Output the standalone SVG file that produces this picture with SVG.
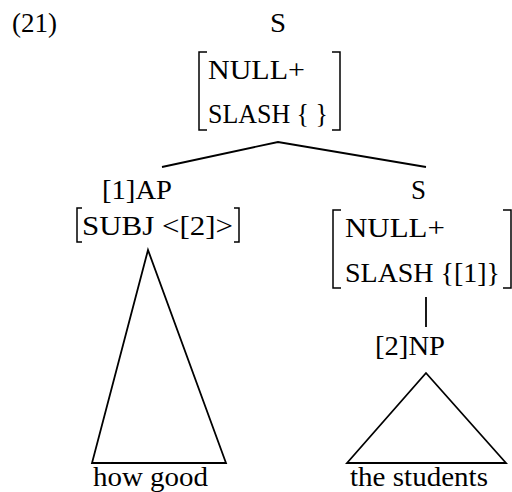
<svg xmlns="http://www.w3.org/2000/svg" width="512" height="492" viewBox="0 0 512 492">
<style>
text{font-family:"Liberation Serif","Times New Roman",serif;font-size:28px;fill:#000}
.ln{fill:none;stroke:#000;stroke-width:1.8}
.br{fill:none;stroke:#000;stroke-width:1.5}
</style>
<rect width="512" height="492" fill="#fff"/>
<text x="12" y="32" textLength="45" lengthAdjust="spacingAndGlyphs">(21)</text>
<g id="s-top">
<text x="270" y="32" textLength="16" lengthAdjust="spacingAndGlyphs">S</text>
<path class="br" d="M207,52 H199 V130 H207 M332,52 H340 V130 H332"/>
<text x="208" y="79" textLength="97" lengthAdjust="spacingAndGlyphs">NULL+</text>
<text x="208" y="123" textLength="120" lengthAdjust="spacingAndGlyphs">SLASH { }</text>
</g>
<g id="ap">
<text x="102" y="199" textLength="70" lengthAdjust="spacingAndGlyphs">[1]AP</text>
<path class="br" d="M82,208 H77 V242 H82 M234,208 H239 V242 H234"/>
<text x="82" y="235" textLength="151" lengthAdjust="spacingAndGlyphs">SUBJ &lt;[2]&gt;</text>
</g>
<g id="s-right">
<text x="411" y="199" textLength="15" lengthAdjust="spacingAndGlyphs">S</text>
<path class="br" d="M341,210 H333 V288 H341 M503,210 H511 V288 H503"/>
<text x="345" y="237" textLength="100" lengthAdjust="spacingAndGlyphs">NULL+</text>
<text x="345" y="282" textLength="155" lengthAdjust="spacingAndGlyphs">SLASH {[1]}</text>
</g>
<g id="np">
<text x="375" y="355" textLength="70" lengthAdjust="spacingAndGlyphs">[2]NP</text>
</g>
<g id="leaf-how-good">
<text x="93" y="486" textLength="115" lengthAdjust="spacingAndGlyphs">how good</text>
</g>
<g id="leaf-the-students">
<text x="350" y="486" textLength="138" lengthAdjust="spacingAndGlyphs">the students</text>
</g>
<g id="connectors">
<polyline class="ln" points="162,167 278,142 426,167"/>
<line class="ln" x1="426" y1="297" x2="426" y2="327"/>
<polygon class="ln" points="148,250 92,463 226,463"/>
<polygon class="ln" points="426,373 347,463 506,463"/>
</g>
</svg>
